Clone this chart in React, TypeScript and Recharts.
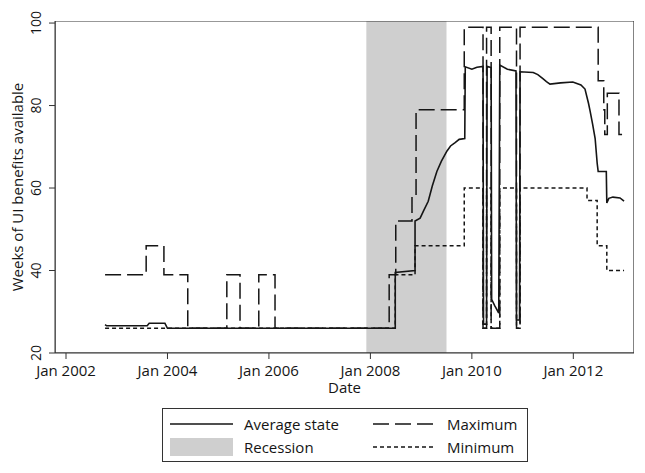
import { ComposedChart, Line, XAxis, YAxis, ReferenceArea } from 'recharts';

const FONT = '"Open Sans", "DejaVu Sans", sans-serif';
const INK = '#151515';
const SHADE = '#cfcfcf';

// axis ticks
const yearTicks = [2002, 2004, 2006, 2008, 2010, 2012];
const weekTicks = [20, 40, 60, 80, 100];

// NBER recession, Dec 2007 - Jun 2009
const recessionStart = 2007.92;
const recessionEnd = 2009.5;

// Average state (decimal year, weeks) - repeated dates give vertical jumps
const avgDates = [
  2002.77, 2002.8, 2003.6, 2003.64, 2003.95, 2004.0, 2008.49, 2008.49, 2008.88, 2008.88,
  2008.98, 2009.05, 2009.14, 2009.22, 2009.31, 2009.4, 2009.51, 2009.58, 2009.67, 2009.75,
  2009.86, 2009.87, 2010.0, 2010.1, 2010.22, 2010.23, 2010.29, 2010.3, 2010.38, 2010.39,
  2010.45, 2010.53, 2010.55, 2010.7, 2010.87, 2010.88, 2010.94, 2010.95, 2011.21, 2011.3,
  2011.4, 2011.47, 2011.54, 2011.75, 2011.99, 2012.15, 2012.23, 2012.3, 2012.33, 2012.38,
  2012.43, 2012.47, 2012.49, 2012.65, 2012.66, 2012.7, 2012.78, 2012.92, 2013.0,
];
const avgWeeks = [
  26.9, 26.6, 26.6, 27.2, 27.2, 26.0, 26.0, 39.5, 40.0, 52.0,
  52.7, 54.5, 56.8, 60.5, 64.0, 66.5, 69.0, 70.2, 71.0, 71.8,
  72.0, 89.4, 88.8, 89.3, 89.5, 27.0, 27.0, 89.5, 89.2, 33.0,
  31.5, 29.7, 89.8, 88.8, 88.4, 28.0, 28.0, 88.2, 88.0, 87.5,
  86.5, 85.8, 85.2, 85.5, 85.7, 85.0, 84.0, 80.5, 78.7, 75.5,
  72.0, 66.0, 64.0, 64.0, 56.4, 57.5, 57.8, 57.6, 56.8,
];

// Maximum across states (step series)
const maxDates = [
  2002.77, 2003.58, 2003.93, 2004.4, 2005.17, 2005.43, 2005.8, 2006.12, 2008.37, 2008.5,
  2008.82, 2008.9, 2009.85, 2010.22, 2010.29, 2010.38, 2010.55, 2010.88, 2010.95, 2012.49,
  2012.6, 2012.62, 2012.67, 2012.9, 2013.0,
];
const maxWeeks = [
  39, 46, 39, 26, 39, 26, 39, 26, 39, 52,
  58, 79, 99, 26, 99, 26, 99, 26, 99, 86,
  79, 73, 83, 73, 73,
];

// Minimum across states (step series)
const minDates = [
  2002.77, 2008.49, 2008.88, 2009.85, 2010.22, 2010.29, 2010.38, 2010.55, 2010.88, 2010.95,
  2012.27, 2012.47, 2012.66, 2013.0,
];
const minWeeks = [26, 39, 46, 60, 26, 60, 26, 60, 26, 60, 57, 46, 40, 40];

const toRows = (dates: number[], weeks: number[]) =>
  dates.map((date, i) => ({ date, weeks: weeks[i] }));

const avgRows = toRows(avgDates, avgWeeks);
const maxRows = toRows(maxDates, maxWeeks);
const minRows = toRows(minDates, minWeeks);

const MAX_DASH = '16 6';
const MIN_DASH = '4 3';

const legendItems = [
  { label: 'Average state', kind: 'line', dash: undefined },
  { label: 'Maximum', kind: 'line', dash: MAX_DASH },
  { label: 'Recession', kind: 'area', dash: undefined },
  { label: 'Minimum', kind: 'line', dash: MIN_DASH },
];

const RotatedTick = (props: any) => {
  const { x, y, payload } = props;
  return (
    <text
      x={x}
      y={y}
      transform={`rotate(-90 ${x} ${y})`}
      textAnchor="middle"
      fontSize={14}
      fontFamily={FONT}
      fill={INK}
    >
      {payload.value}
    </text>
  );
};

const YLabel = (props: any) => {
  const { x, y, height } = props.viewBox;
  const cx = x + 17;
  const cy = y + height / 2;
  return (
    <text
      x={cx}
      y={cy}
      transform={`rotate(-90 ${cx} ${cy})`}
      textAnchor="middle"
      dominantBaseline="central"
      fontSize={15}
      fontFamily={FONT}
      fill={INK}
    >
      Weeks of UI benefits available
    </text>
  );
};

function LegendBox() {
  return (
    <div
      style={{
        position: 'absolute',
        left: 162,
        top: 408,
        width: 364,
        height: 52,
        border: '1px solid #333',
        boxSizing: 'content-box',
        fontFamily: FONT,
        fontSize: 15,
        color: INK,
        display: 'grid',
        gridTemplateColumns: '203px 150px',
        gridAutoRows: '23px',
        paddingLeft: 7,
        paddingTop: 3,
        boxSizing: 'border-box',
        width: 366,
        height: 54,
      }}
    >
      {legendItems.map((item) => (
        <div key={item.label} style={{ display: 'flex', alignItems: 'center' }}>
          <svg width={63} height={18} style={{ marginRight: 11 }}>
            {item.kind === 'area' ? (
              <rect x={0} y={0} width={63} height={18} fill={SHADE} />
            ) : (
              <line x1={0} y1={9} x2={63} y2={9} stroke={INK} strokeWidth={1.5} strokeDasharray={item.dash} />
            )}
          </svg>
          <span style={{ lineHeight: '18px' }}>{item.label}</span>
        </div>
      ))}
    </div>
  );
}

export default function App() {
  return (
    <div style={{ position: 'absolute', left: 0, top: 0, width: 645, height: 473, background: '#fff' }}>
      <ComposedChart
        width={645}
        height={473}
        margin={{ top: 21, right: 11, bottom: 75, left: 0 }}
      >
        <ReferenceArea
          x1={recessionStart}
          x2={recessionEnd}
          y1={20}
          y2={100.5}
          fill={SHADE}
          fillOpacity={1}
          stroke="none"
          ifOverflow="hidden"
        />
        <XAxis
          dataKey="date"
          type="number"
          domain={[2001.783, 2013.196]}
          allowDataOverflow
          ticks={yearTicks}
          tickFormatter={(v: number) => `Jan ${v}`}
          tick={{ fontSize: 15, fontFamily: FONT, fill: INK }}
          tickSize={6}
          tickMargin={6}
          tickLine={{ stroke: '#333' }}
          axisLine={{ stroke: '#333' }}
          height={45}
          label={{ value: 'Date', position: 'insideBottom', offset: 5, fontSize: 15, fontFamily: FONT, fill: INK }}
        />
        <YAxis
          type="number"
          domain={[20, 100.5]}
          allowDataOverflow
          ticks={weekTicks}
          tick={<RotatedTick />}
          tickSize={6}
          tickMargin={8}
          tickLine={{ stroke: '#333' }}
          axisLine={{ stroke: '#333' }}
          width={55}
          label={{ content: YLabel }}
        />
        <ReferenceArea
          x1={2001.783}
          x2={2013.196}
          y1={20}
          y2={100.5}
          fill="none"
          stroke="#333"
          strokeWidth={1.2}
          ifOverflow="hidden"
        />
        <Line
          data={minRows}
          dataKey="weeks"
          type="stepAfter"
          stroke={INK}
          strokeWidth={1.5}
          strokeDasharray={MIN_DASH}
          dot={false}
          isAnimationActive={false}
        />
        <Line
          data={maxRows}
          dataKey="weeks"
          type="stepAfter"
          stroke={INK}
          strokeWidth={1.5}
          strokeDasharray={MAX_DASH}
          dot={false}
          isAnimationActive={false}
        />
        <Line
          data={avgRows}
          dataKey="weeks"
          type="linear"
          stroke={INK}
          strokeWidth={1.6}
          dot={false}
          isAnimationActive={false}
        />
      </ComposedChart>
      <LegendBox />
    </div>
  );
}
